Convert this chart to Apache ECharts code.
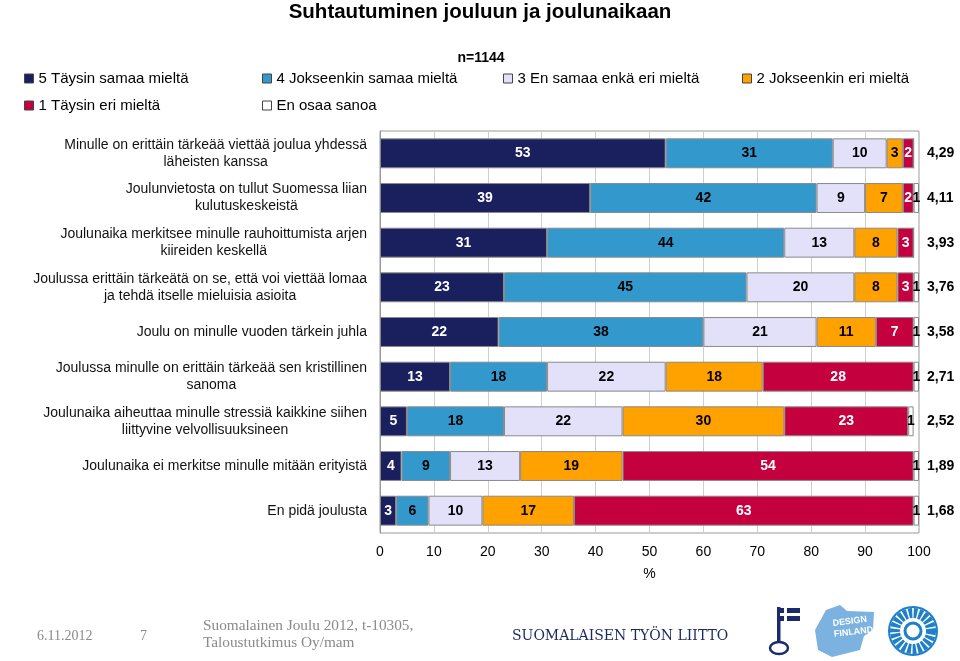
<!DOCTYPE html>
<html>
<head>
<meta charset="utf-8">
<script src="https://cdn.jsdelivr.net/npm/echarts@6/dist/echarts.min.js"></script>
<style>html,body{margin:0;padding:0;background:#fff}#c{width:960px;height:661px}</style>
</head>
<body>
<div id="c"></div>
<script>
var categories = [
  'Minulle on erittäin tärkeää viettää joulua yhdessä\nläheisten kanssa',
  'Joulunvietosta on tullut Suomessa liian\nkulutuskeskeistä',
  'Joulunaika merkitsee minulle rauhoittumista arjen\nkiireiden keskellä',
  'Joulussa erittäin tärkeätä on se, että voi viettää lomaa\nja tehdä itselle mieluisia asioita',
  'Joulu on minulle vuoden tärkein juhla',
  'Joulussa minulle on erittäin tärkeää sen kristillinen\nsanoma',
  'Joulunaika aiheuttaa minulle stressiä kaikkine siihen\nliittyvine velvollisuuksineen',
  'Joulunaika ei merkitse minulle mitään erityistä',
  'En pidä joulusta'
];
var means = ['4,29','4,11','3,93','3,76','3,58','2,71','2,52','1,89','1,68'];
var seriesNames = ['5 Täysin samaa mieltä','4 Jokseenkin samaa mieltä','3 En samaa enkä eri mieltä','2 Jokseenkin eri mieltä','1 Täysin eri mieltä','En osaa sanoa'];
var s5 = [53,39,31,23,22,13,5,4,3];
var s4 = [31,42,44,45,38,18,18,9,6];
var s3 = [10,9,13,20,21,22,22,13,10];
var s2 = [3,7,8,8,11,18,30,19,17];
var s1 = [2,2,3,3,7,28,23,54,63];
var s0 = [0,1,0,1,1,1,1,1,1];
var xTicks = [0,10,20,30,40,50,60,70,80,90,100];

var colors = ['#1a1f5e','#3399cc','#e3e0fa','#ffa200','#c4003e','#ffffff'];
var labelColors = ['#fff','#000','#000','#000','#fff','#000'];
var data = [s5,s4,s3,s2,s1,s0];
var legendPos = [[24,71],[262,71],[503,71],[742,71],[24,98],[262,98]];

var chart = echarts.init(document.getElementById('c'));
var series = data.map(function(d,i){
  return {
    name: seriesNames[i], type:'bar', stack:'all', barWidth:'67%',
    data: d,
    itemStyle:{color:colors[i], borderColor:'#8a8a8a', borderWidth:1},
    label:{show:true, position:'inside', color:labelColors[i], fontSize:14, fontWeight:'bold', fontFamily:'Liberation Sans',
      formatter:function(p){return p.value>0?String(p.value):'';}},
    emphasis:{disabled:true}
  };
});
var legends = seriesNames.map(function(n,i){
  return {
    left:legendPos[i][0], top:legendPos[i][1], padding:0, data:[n],
    orient:'horizontal', itemWidth:9, itemHeight:9, itemGap:0, icon:'rect',
    itemStyle:{borderColor:'#444', borderWidth:1},
    textStyle:{fontSize:15, fontFamily:'Liberation Sans', color:'#000'},
    selectedMode:false
  };
});
var option = {
  animation:false,
  title:[
    {text:'Suhtautuminen jouluun ja joulunaikaan', left:'center', top:-3, textStyle:{fontSize:20.5, fontWeight:'bold', fontFamily:'Liberation Sans', color:'#000'}},
    {text:'n=1144', left:476, top:46, textAlign:'center', textStyle:{fontSize:14, fontWeight:'bold', fontFamily:'Liberation Sans', color:'#000'}}
  ],
  legend: legends,
  grid:{left:380, right:41, top:131, bottom:128, containLabel:false, outerBoundsMode:'none', show:true, borderColor:'#9a9a9a', borderWidth:1},
  xAxis:{type:'value', min:0, max:100, interval:10,
    name:'%', nameLocation:'middle', nameGap:34, nameTextStyle:{fontSize:14, fontFamily:'Liberation Sans', color:'#000'},
    axisLabel:{fontSize:14, fontFamily:'Liberation Sans', color:'#000', margin:12, formatter:function(v){return xTicks.indexOf(v)>=0?String(v):'';}},
    axisLine:{show:false}, axisTick:{show:false},
    splitLine:{show:true, lineStyle:{color:'#cfcfcf', width:1}}
  },
  yAxis:[
    {type:'category', data:categories, inverse:true,
      axisLine:{show:true, lineStyle:{color:'#9a9a9a'}}, axisTick:{show:false},
      axisLabel:{margin:13, interval:0, align:'right',
        formatter:function(v){return v.split('\n').map(function(l){return '{c|'+l+'}';}).join('\n');},
        rich:{c:{align:'center', fontSize:14, lineHeight:17, fontFamily:'Liberation Sans', color:'#111'}}}
    },
    {type:'category', data:means, inverse:true, position:'right',
      axisLine:{show:false}, axisTick:{show:false},
      axisLabel:{margin:8, interval:0, fontSize:14, fontWeight:'bold', fontFamily:'Liberation Sans', color:'#000'}
    }
  ],
  series: series,
  graphic:[
    {type:'text', left:37, top:629, style:{text:'6.11.2012', fontSize:14, fontFamily:'Liberation Serif', fill:'#8a8a8a'}},
    {type:'text', left:140, top:629, style:{text:'7', fontSize:14, fontFamily:'Liberation Serif', fill:'#8a8a8a'}},
    {type:'text', left:203, top:617, style:{text:'Suomalainen Joulu 2012, t-10305,\nTaloustutkimus Oy/mam', fontSize:15.3, lineHeight:17, fontFamily:'Liberation Serif', fill:'#8a8a8a'}},
    {type:'text', left:512, top:629, style:{text:'SUOMALAISEN TYÖN LIITTO', fontSize:14, fontFamily:'DejaVu Serif', fill:'#1b2a5e'}},
    // key logo
    {type:'rect', shape:{x:777, y:607, width:3.5, height:36}, style:{fill:'#1b2a6b'}},
    {type:'rect', shape:{x:780, y:608, width:20, height:13}, style:{fill:'#1b2a6b'}},
    {type:'rect', shape:{x:784, y:608, width:3, height:13}, style:{fill:'#fff'}},
    {type:'rect', shape:{x:780, y:613, width:20, height:3}, style:{fill:'#fff'}},
    {type:'ellipse', shape:{cx:779, cy:648, rx:9, ry:6}, style:{fill:'none', stroke:'#1b2a6b', lineWidth:2.5}},
    // design finland
    {type:'polygon', shape:{points:[[826,610],[840,605],[847,611],[874,612],[873,630],[864,636],[860,650],[832,657],[818,650],[815,630]]}, style:{fill:'#7bb2e0'}},
    {type:'text', x:832, y:618, rotation:0.12, style:{text:'DESIGN\nFINLAND', fontSize:9, lineHeight:11, fontFamily:'Liberation Sans', fill:'#fff', fontWeight:'bold', align:'left'}},
    // circle logo
    {type:'circle', shape:{cx:913, cy:631, r:18}, style:{fill:'none', stroke:'#1d80c8', lineWidth:10, lineDash:[3.5,1.5]}},
    {type:'circle', shape:{cx:913, cy:631, r:24}, style:{fill:'none', stroke:'#1d80c8', lineWidth:2}},
    {type:'circle', shape:{cx:913, cy:631, r:8}, style:{fill:'none', stroke:'#1d80c8', lineWidth:3}}
  ]
};
chart.setOption(option);
</script>
</body>
</html>
